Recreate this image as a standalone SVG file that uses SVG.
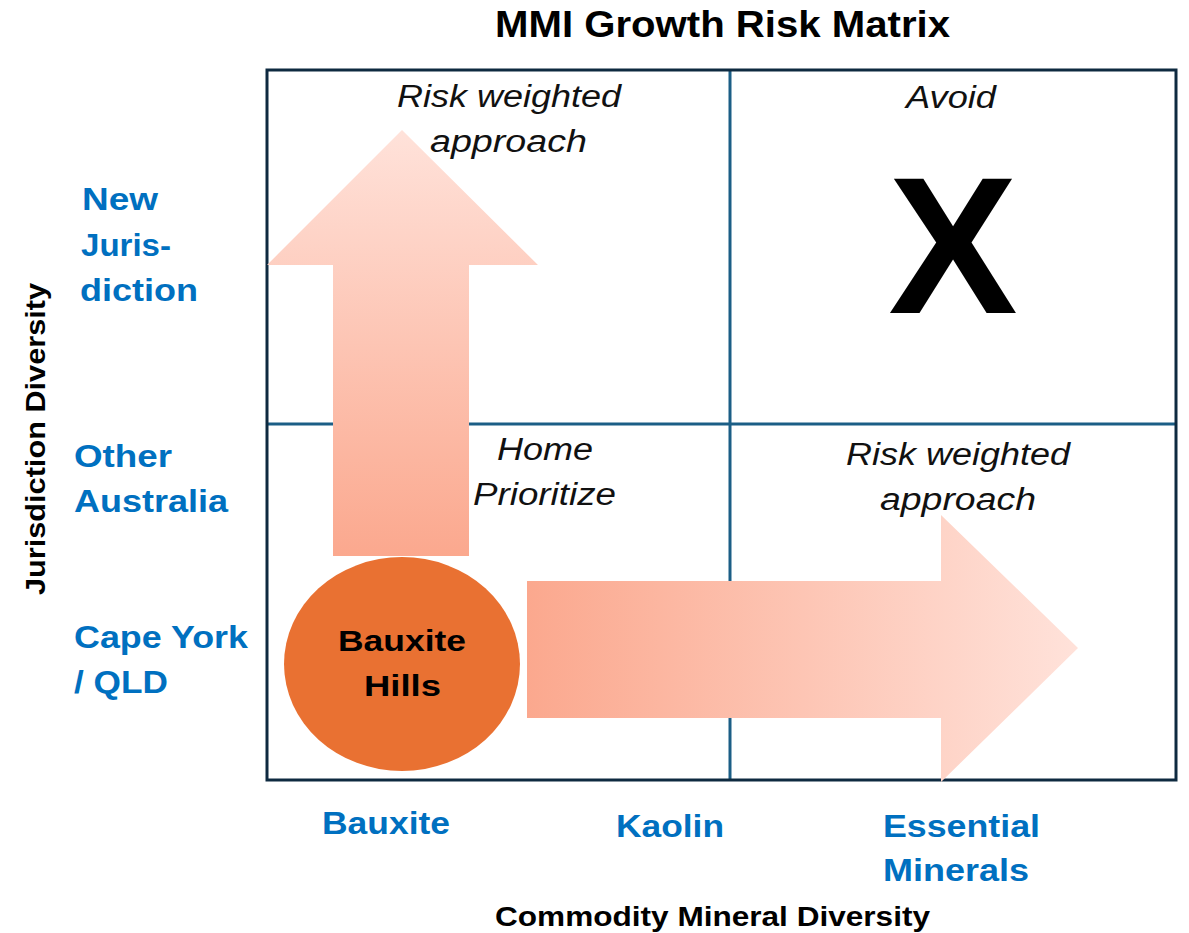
<svg xmlns="http://www.w3.org/2000/svg" width="1189" height="933" viewBox="0 0 1189 933">
<defs>
<linearGradient id="gUp" x1="0" y1="1" x2="0" y2="0">
<stop offset="0" stop-color="#FBA88E"/>
<stop offset="1" stop-color="#FFE2DA"/>
</linearGradient>
<linearGradient id="gRight" x1="0" y1="0" x2="1" y2="0">
<stop offset="0" stop-color="#FBA88E"/>
<stop offset="1" stop-color="#FFE2DA"/>
</linearGradient>
<style>
.axis{font-family:"Liberation Sans",Arial,sans-serif;font-weight:bold;fill:#0070C0;font-size:31px}
.quad{font-family:"Liberation Sans",Arial,sans-serif;font-style:italic;fill:#111;font-size:31px}
.title{font-family:"Liberation Sans",Arial,sans-serif;font-weight:bold;fill:#000}
.frame{fill:none;stroke:#0E2A40;stroke-width:3}
.div{stroke:#1B5E86;stroke-width:3}
</style>
</defs>
<rect width="1189" height="933" fill="#fff"/>
<text class="title" x="495" y="37" font-size="36" textLength="455" lengthAdjust="spacingAndGlyphs">MMI Growth Risk Matrix</text>
<g id="grid">
<line class="div" x1="730" y1="70" x2="730" y2="780"/>
<line class="div" x1="267" y1="424" x2="1176" y2="424"/>
<rect class="frame" x="267" y="70" width="909" height="710"/>
</g>
<g id="connectors">
<polygon id="arrow-up" points="402,130 538,265 469,265 469,556 333,556 333,265 267,265" fill="url(#gUp)"/>
<polygon id="arrow-right" points="527,581 941,581 941,515 1078,648 941,782 941,718 527,718" fill="url(#gRight)"/>
</g>
<g id="bauxite-hills">
<ellipse cx="402" cy="664" rx="118" ry="107" fill="#E97132"/>
<text class="title" x="338" y="651" font-size="30" textLength="128" lengthAdjust="spacingAndGlyphs">Bauxite</text>
<text class="title" x="364" y="696" font-size="30" textLength="77" lengthAdjust="spacingAndGlyphs">Hills</text>
</g>
<g id="q-top-left">
<text class="quad" x="397" y="107" textLength="224" lengthAdjust="spacingAndGlyphs">Risk weighted</text>
<text class="quad" x="430" y="152" textLength="157" lengthAdjust="spacingAndGlyphs">approach</text>
</g>
<g id="q-top-right">
<text class="quad" x="906" y="108" textLength="90" lengthAdjust="spacingAndGlyphs">Avoid</text>
<text x="953" y="313" font-family="Liberation Sans,Arial,sans-serif" font-weight="bold" font-size="194" text-anchor="middle" fill="#000">X</text>
</g>
<g id="q-bottom-left">
<text class="quad" x="497" y="460" textLength="96" lengthAdjust="spacingAndGlyphs">Home</text>
<text class="quad" x="473" y="505" textLength="143" lengthAdjust="spacingAndGlyphs">Prioritize</text>
</g>
<g id="q-bottom-right">
<text class="quad" x="846" y="465" textLength="224" lengthAdjust="spacingAndGlyphs">Risk weighted</text>
<text class="quad" x="880" y="510" textLength="156" lengthAdjust="spacingAndGlyphs">approach</text>
</g>
<g id="y-labels">
<text class="axis" x="82" y="210" textLength="76" lengthAdjust="spacingAndGlyphs">New</text>
<text class="axis" x="81" y="256" textLength="90" lengthAdjust="spacingAndGlyphs">Juris-</text>
<text class="axis" x="80" y="301" textLength="118" lengthAdjust="spacingAndGlyphs">diction</text>
<text class="axis" x="74" y="467" textLength="98" lengthAdjust="spacingAndGlyphs">Other</text>
<text class="axis" x="74" y="512" textLength="154" lengthAdjust="spacingAndGlyphs">Australia</text>
<text class="axis" x="74" y="648" textLength="174" lengthAdjust="spacingAndGlyphs">Cape York</text>
<text class="axis" x="74" y="693" textLength="94" lengthAdjust="spacingAndGlyphs">/ QLD</text>
</g>
<g id="x-labels">
<text class="axis" x="322" y="834" textLength="128" lengthAdjust="spacingAndGlyphs">Bauxite</text>
<text class="axis" x="616" y="837" textLength="108" lengthAdjust="spacingAndGlyphs">Kaolin</text>
<text class="axis" x="883" y="837" textLength="157" lengthAdjust="spacingAndGlyphs">Essential</text>
<text class="axis" x="883" y="881" textLength="146" lengthAdjust="spacingAndGlyphs">Minerals</text>
</g>
<text class="title" x="495" y="926" font-size="27" textLength="435" lengthAdjust="spacingAndGlyphs">Commodity Mineral Diversity</text>
<text class="title" x="45" y="595" font-size="27" textLength="312" lengthAdjust="spacingAndGlyphs" transform="rotate(-90 45 595)">Jurisdiction Diversity</text>
</svg>
